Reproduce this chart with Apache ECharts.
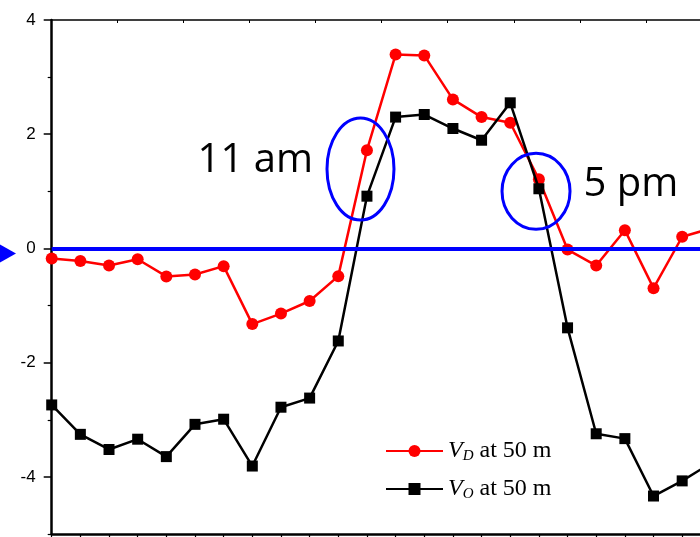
<!DOCTYPE html>
<html>
<head>
<meta charset="utf-8">
<script src="https://cdn.jsdelivr.net/npm/echarts@6/dist/echarts.min.js"></script>
<style>
  html, body { margin: 0; padding: 0; background: #fff; }
  #chart { width: 700px; height: 537px; }
</style>
</head>
<body>
<div id="chart"></div>
<script>
// Sample index along the horizontal axis (one sample per tick)
const sampleIndex = [0, 1, 2, 3, 4, 5, 6, 7, 8, 9, 10, 11, 12, 13, 14, 15, 16, 17, 18, 19, 20, 21, 22, 23];

// V_D at 50 m
const vD = [-0.175, -0.22, -0.30, -0.19, -0.49, -0.455, -0.31, -1.325, -1.14, -0.92, -0.485, 1.72,
            3.395, 3.38, 2.61, 2.30, 2.20, 1.21, -0.02, -0.30, 0.32, -0.695, 0.205, 0.35];

// V_O at 50 m
const vO = [-2.74, -3.255, -3.52, -3.34, -3.645, -3.08, -2.99, -3.81, -2.78, -2.62, -1.62, 0.915,
            2.30, 2.345, 2.10, 1.895, 2.55, 1.045, -1.39, -3.245, -3.33, -4.335, -4.07, -3.76];

// Left axis tick values
const yMajorTicks = [-4, -2, 0, 2, 4];
const yMinorTicks = [-5, -3, -1, 1, 3];

// Series names and legend texts
const seriesNames = ['VD', 'VO'];
const legendParts = { VD: ['V', 'D', ' at 50 m'], VO: ['V', 'O', ' at 50 m'] };

// Annotation labels and where they sit (data coordinates)
const noteTexts = ['11 am', '5 pm'];
const notePos = [[5.09, 1.53], [18.56, 1.12]];
const ringCenters = [[10.775, 1.39], [16.9, 1.0]];
const ringRadii = [[33.5, 51], [34, 38]];

const pairs = (vals) => sampleIndex.map((x, i) => [x, vals[i]]);

const chart = echarts.init(document.getElementById('chart'), null, { renderer: 'canvas' });

const axisFont = { fontFamily: 'Liberation Sans, Arial, sans-serif', fontSize: 17, color: '#000' };

chart.setOption({
  animation: false,
  backgroundColor: '#fff',
  // the plot runs on past the right edge of the canvas
  grid: { left: 51.7, width: 687.8, top: 20, height: 514, containLabel: false, outerBoundsMode: 'none' },
  xAxis: [
    {
      type: 'value', position: 'bottom', min: 0, max: 24, interval: 1,
      axisLine: { onZero: false, lineStyle: { color: '#000', width: 2.5 } },
      axisTick: { inside: false, length: 4, lineStyle: { color: '#000', width: 1.2 } },
      axisLabel: { show: false },
      splitLine: { show: false }
    },
    {
      type: 'value', position: 'top', min: 0, max: 10.42, interval: 1,
      axisLine: { onZero: false, lineStyle: { color: '#000', width: 1.5 } },
      axisTick: { inside: true, length: 3, lineStyle: { color: '#000', width: 1 } },
      axisLabel: { show: false },
      splitLine: { show: false }
    }
  ],
  yAxis: [
    {
      type: 'value', min: -5, max: 4, position: 'left',
      axisLine: { onZero: false, lineStyle: { color: '#000', width: 2.5 } },
      axisTick: { inside: false, length: 8, customValues: yMajorTicks, lineStyle: { color: '#000', width: 1.5 } },
      axisLabel: Object.assign({ margin: 16, customValues: yMajorTicks }, axisFont),
      splitLine: { show: false }
    },
    {
      type: 'value', min: -5, max: 4, position: 'left',
      axisLine: { show: false, onZero: false },
      axisTick: { inside: false, length: 4, customValues: yMinorTicks, lineStyle: { color: '#000', width: 1.2 } },
      axisLabel: { show: false },
      splitLine: { show: false }
    }
  ],
  legend: {
    data: seriesNames,
    orient: 'vertical',
    left: 385,
    top: 439,
    padding: 0,
    itemWidth: 57,
    itemHeight: 15,
    itemGap: 13,
    formatter: (name) => {
      const p = legendParts[name];
      return '{v|' + p[0] + '}{s|' + p[1] + '}{t|' + p[2] + '}';
    },
    textStyle: {
      color: '#000',
      rich: {
        v: { fontFamily: 'Liberation Serif, Times New Roman, serif', fontStyle: 'italic', fontSize: 24, lineHeight: 29 },
        s: { fontFamily: 'Liberation Serif, Times New Roman, serif', fontStyle: 'italic', fontSize: 15, padding: [11, 0, 0, 0] },
        t: { fontFamily: 'Liberation Serif, Times New Roman, serif', fontSize: 24, lineHeight: 29 }
      }
    }
  },
  series: [
    {
      name: 'VD', type: 'line', data: pairs(vD), z: 3,
      symbol: 'circle', symbolSize: 12,
      lineStyle: { color: '#ff0000', width: 2.5 },
      itemStyle: { color: '#ff0000' }
    },
    {
      name: 'VO', type: 'line', data: pairs(vO), z: 4,
      symbol: 'rect', symbolSize: 11,
      lineStyle: { color: '#000', width: 2.5 },
      itemStyle: { color: '#000' }
    },
    {
      name: 'zero', type: 'line', data: [], z: 6,
      markLine: {
        silent: true, symbol: ['none', 'none'],
        label: { show: false },
        lineStyle: { color: '#0000ff', width: 4, type: 'solid' },
        data: [{ yAxis: 0 }]
      }
    }
  ]
});

// Annotations anchored to data coordinates
function drawNotes() {
  const px = (p) => chart.convertToPixel({ xAxisIndex: 0, yAxisIndex: 0 }, p);
  const zero = px([0, 0]);
  const elements = [];
  ringCenters.forEach((c, i) => {
    const p = px(c);
    elements.push({
      type: 'ellipse', z: 100,
      shape: { cx: p[0], cy: p[1], rx: ringRadii[i][0], ry: ringRadii[i][1] },
      style: { fill: 'none', stroke: '#0000ff', lineWidth: 3 }
    });
  });
  noteTexts.forEach((t, i) => {
    const p = px(notePos[i]);
    elements.push({
      type: 'text', z: 100, x: p[0], y: p[1],
      style: { text: t, fill: '#000', font: '40px "Open Sans", "Noto Sans", sans-serif', textAlign: 'left', textVerticalAlign: 'middle' }
    });
  });
  // arrow marking the zero level on the left edge
  elements.push({
    type: 'polygon', z: 100,
    shape: { points: [[0, zero[1] - 4], [0, zero[1] + 14], [16, zero[1] + 5]] },
    style: { fill: '#0000ff' }
  });
  chart.setOption({ graphic: { elements: elements } });
}
drawNotes();
</script>
</body>
</html>
